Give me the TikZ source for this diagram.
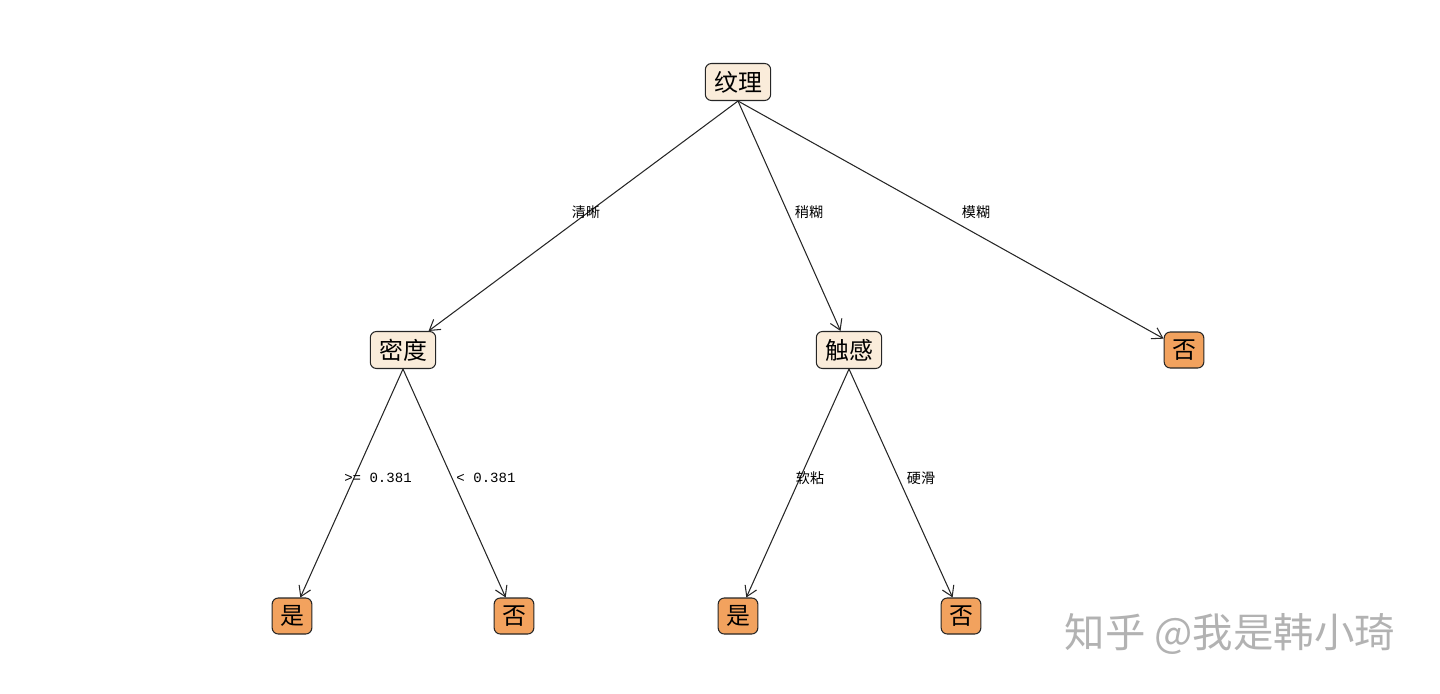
\documentclass[tikz,border=0pt]{standalone}
\usepackage{fontspec}
\setmainfont{Noto Sans CJK SC}
\setmonofont{Liberation Mono}
\usetikzlibrary{arrows.meta}
\definecolor{splitfill}{RGB}{250,236,218}
\definecolor{leaffill}{RGB}{242,162,94}
\begin{document}
\begin{tikzpicture}[x=0.02cm,y=-0.02cm,>={Straight Barb[length=2mm,width=2.5mm]},line cap=round,line join=round,
  split/.style={draw=black!85,line width=0.6pt,rounded corners=3.5pt,fill=splitfill,inner xsep=5pt,inner ysep=0pt,minimum height=0.74cm,font=\fontsize{13.6}{14}\selectfont},
  leaf/.style={draw=black!85,line width=0.6pt,rounded corners=3.5pt,fill=leaffill,inner xsep=4.5pt,inner ysep=0pt,minimum height=0.72cm,font=\fontsize{13.6}{14}\selectfont},
  edge/.style={->,line width=0.6pt,black!85},
  lbl/.style={inner sep=1pt,font=\fontsize{8}{9}\selectfont}]
\useasboundingbox (0,0) rectangle (1440,693);
\node[split] (root) at (738,82) {纹理};
\node[split] (midu) at (403,350) {密度};
\node[split] (chugan) at (849,350) {触感};
\node[leaf] (fou1) at (1184,350) {否};
\node[leaf] (shi1) at (292,616) {是};
\node[leaf] (fou2) at (514,616) {否};
\node[leaf] (shi2) at (738,616) {是};
\node[leaf] (fou3) at (961,616) {否};
\draw[edge] (root.south) -- (midu);
\draw[edge] (root.south) -- (chugan);
\draw[edge] (root.south) -- (fou1);
\draw[edge] (midu.south) -- (shi1);
\draw[edge] (midu.south) -- (fou2);
\draw[edge] (chugan.south) -- (shi2);
\draw[edge] (chugan.south) -- (fou3);
\node[lbl] (l1) at (586,212) {清晰};
\node[lbl] (l2) at (809,212) {稍糊};
\node[lbl] (l3) at (976,212) {模糊};
\node[lbl] (l4) at (378,478) {\ttfamily >= 0.381};
\node[lbl] (l5) at (486,478) {\ttfamily < 0.381};
\node[lbl] (l6) at (810,478) {软粘};
\node[lbl] (l7) at (921,478) {硬滑};
% watermark
\node[text=black!30,font=\fontsize{23}{24}\selectfont] (mark) at (1230,634) {知乎 @我是韩小琦};
\end{tikzpicture}
\end{document}
